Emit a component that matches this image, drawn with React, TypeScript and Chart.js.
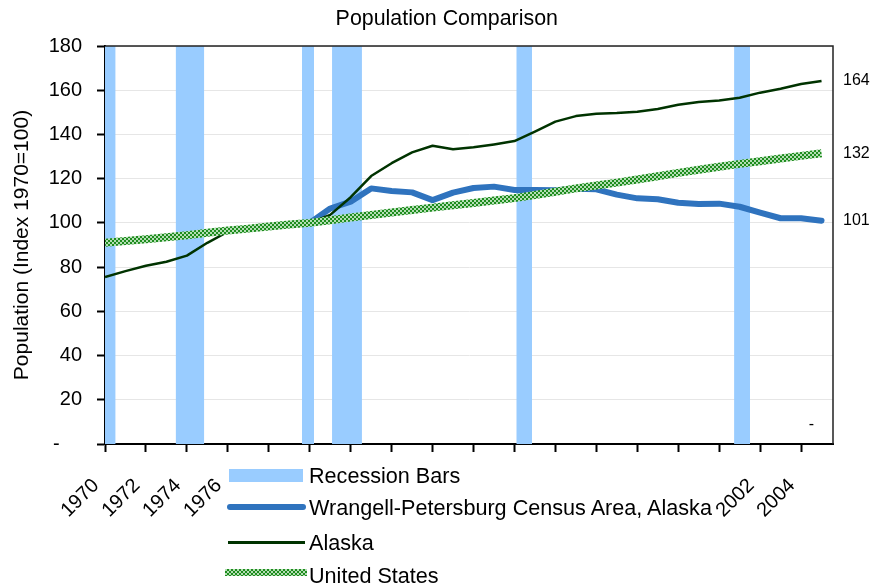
import React, { useEffect, useRef } from 'react';
import { Chart, registerables } from 'chart.js';

Chart.register(...registerables);

// ---------- data ----------
const YEARS = [
  1970, 1971, 1972, 1973, 1974, 1975, 1976, 1977, 1978, 1979,
  1980, 1981, 1982, 1983, 1984, 1985, 1986, 1987, 1988, 1989,
  1990, 1991, 1992, 1993, 1994, 1995, 1996, 1997, 1998, 1999,
  2000, 2001, 2002, 2003, 2004, 2005,
];

const WRANGELL: (number | null)[] = [
  null, null, null, null, null, null, null, null, null, null,
  100.0, 106.5, 109.6, 115.6, 114.4, 113.8, 110.3, 113.7, 115.8, 116.4,
  114.9, 114.9, 114.8, 115.4, 115.2, 112.8, 111.1, 110.7, 109.1, 108.5,
  108.7, 107.3, 104.6, 102.1, 102.1, 101.0,
];

const ALASKA = [
  75.5, 78.2, 80.6, 82.4, 85.2, 91.0, 96.0, 97.3, 98.5, 99.3,
  100.0, 103.6, 111.6, 121.2, 127.0, 131.9, 134.9, 133.3, 134.2, 135.5,
  137.0, 141.3, 145.8, 148.3, 149.4, 149.7, 150.3, 151.5, 153.4, 154.7,
  155.4, 156.6, 158.9, 160.7, 162.8, 164.2,
];

const UNITED_STATES = [
  91.0, 91.8, 92.6, 93.5, 94.4, 95.5, 96.6, 97.4, 98.4, 99.3,
  100.0, 101.2, 102.4, 103.6, 104.7, 105.8, 106.9, 108.0, 109.0, 110.1,
  111.2, 112.6, 114.1, 115.6, 116.9, 118.2, 119.6, 121.1, 122.6, 124.0,
  125.4, 126.7, 127.9, 129.1, 130.3, 131.5,
];

const RECESSION_START = [1970.0, 1973.45, 1979.62, 1981.09, 1990.09, 2000.73];
const RECESSION_END = [1970.52, 1974.85, 1980.21, 1982.55, 1990.86, 2001.51];

const X_TICK_YEARS = [
  1970, 1972, 1974, 1976, 1978, 1980, 1982, 1984, 1986, 1988,
  1990, 1992, 1994, 1996, 1998, 2000, 2002, 2004,
];
const X_LABEL_YEARS = [1970, 1972, 1974, 1976, 2002, 2004];
const Y_TICKS = [0, 20, 40, 60, 80, 100, 120, 140, 160, 180];
const X_MIN = 1970;
const X_MAX = 2005.56;
const Y_MIN = 0;
const Y_MAX = 180;
const ZERO_LABEL_YEAR = 2004.5;

const SERIES_NAMES = [
  'Recession Bars',
  'Wrangell-Petersburg Census Area, Alaska',
  'Alaska',
  'United States',
];
const TITLE = 'Population Comparison';
const Y_TITLE = 'Population (Index 1970=100)';

// ---------- styles ----------
const FONT = '"Liberation Sans", Arial, Helvetica, sans-serif';
const RECESSION_COLOR = '#99CCFF';
const WRANGELL_COLOR = '#2F73BE';
const ALASKA_COLOR = '#003300';
const US_DARK = '#1e8c1e';
const US_LIGHT = '#b4deb4';

const frameAndLabels = {
  id: 'frameAndLabels',
  afterDatasetsDraw(chart: any) {
    const { ctx, chartArea: a, scales } = chart;
    ctx.save();
    ctx.strokeStyle = '#222';
    ctx.lineWidth = 1.5;
    ctx.beginPath();
    ctx.moveTo(a.left, a.top);
    ctx.lineTo(a.right, a.top);
    ctx.lineTo(a.right, a.bottom);
    ctx.stroke();

    ctx.font = `16px ${FONT}`;
    ctx.fillStyle = '#000';
    ctx.textBaseline = 'middle';
    ctx.textAlign = 'left';
    [1, 2, 3].forEach((i) => {
      const ds = chart.data.datasets[i];
      const meta = chart.getDatasetMeta(i);
      let idx = ds.data.length - 1;
      while (idx >= 0 && ds.data[idx].y == null) idx--;
      if (idx < 0) return;
      const el = meta.data[idx];
      ctx.fillText(String(Math.round(ds.data[idx].y)), a.right + 10, el.y);
    });
    ctx.textAlign = 'center';
    ctx.fillText('-', scales.x.getPixelForValue(ZERO_LABEL_YEAR), scales.y.getPixelForValue(0) - 19);

    ctx.font = `21.4px ${FONT}`;
    ctx.fillText(TITLE, 446.8, 19);
    ctx.restore();
  },
};

export default function App() {
  const ref = useRef<HTMLCanvasElement>(null);

  useEffect(() => {
    const canvas = ref.current!;
    const pc = document.createElement('canvas');
    pc.width = 4;
    pc.height = 4;
    const pctx = pc.getContext('2d')!;
    pctx.fillStyle = US_LIGHT;
    pctx.fillRect(0, 0, 4, 4);
    pctx.fillStyle = US_DARK;
    pctx.fillRect(0, 0, 2, 2);
    pctx.fillRect(2, 2, 2, 2);
    const pattern = canvas.getContext('2d')!.createPattern(pc, 'repeat');

    const lineData = (vals: (number | null)[]) => YEARS.map((yr, i) => ({ x: yr, y: vals[i] }));
    const recessionPoints: { x: number; y: number | null }[] = [];
    RECESSION_START.forEach((s, i) => {
      recessionPoints.push({ x: s, y: Y_MAX }, { x: RECESSION_END[i], y: Y_MAX }, { x: RECESSION_END[i], y: null });
    });

    const chart = new Chart(canvas, {
      type: 'line',
      data: {
        datasets: [
          {
            label: SERIES_NAMES[0],
            data: recessionPoints as any,
            backgroundColor: RECESSION_COLOR,
            borderColor: 'rgba(0,0,0,0)',
            borderWidth: 0,
            fill: 'origin',
            pointRadius: 0,
            spanGaps: false,
            order: 4,
          },
          {
            label: SERIES_NAMES[1],
            data: lineData(WRANGELL) as any,
            borderColor: WRANGELL_COLOR,
            borderWidth: 6,
            borderCapStyle: 'round',
            borderJoinStyle: 'round',
            pointRadius: 0,
            fill: false,
            spanGaps: false,
            order: 3,
          },
          {
            label: SERIES_NAMES[2],
            data: lineData(ALASKA) as any,
            borderColor: ALASKA_COLOR,
            borderWidth: 2.5,
            borderJoinStyle: 'round',
            pointRadius: 0,
            fill: false,
            order: 2,
          },
          {
            label: SERIES_NAMES[3],
            data: lineData(UNITED_STATES) as any,
            borderColor: pattern as any,
            borderWidth: 8,
            pointRadius: 0,
            fill: false,
            order: 1,
          },
        ],
      },
      options: {
        responsive: false,
        animation: false,
        events: [],
        layout: { padding: { left: 0, right: 41, top: 46, bottom: 0 } },
        plugins: {
          legend: { display: false },
          tooltip: { enabled: false },
          title: { display: false },
        },
        scales: {
          x: {
            type: 'linear',
            min: X_MIN,
            max: X_MAX,
            afterBuildTicks: (s: any) => {
              s.ticks = X_TICK_YEARS.map((v) => ({ value: v }));
            },
            afterFit: (s: any) => {
              s.height = 141;
            },
            grid: {
              display: true,
              drawOnChartArea: false,
              drawTicks: true,
              tickLength: 8,
              tickColor: '#000',
              tickWidth: 2,
            },
            border: { display: true, color: '#000', width: 2 },
            ticks: {
              autoSkip: false,
              maxRotation: 45,
              minRotation: 45,
              padding: 22,
              labelOffset: -9,
              color: '#000',
              font: { family: FONT, size: 20 },
              callback: (v: any) => (X_LABEL_YEARS.includes(Number(v)) ? String(v) : ''),
            },
          },
          y: {
            min: Y_MIN,
            max: Y_MAX,
            afterBuildTicks: (s: any) => {
              s.ticks = Y_TICKS.map((v) => ({ value: v }));
            },
            afterFit: (s: any) => {
              s.width = 105;
            },
            grid: {
              color: '#e6e6e6',
              lineWidth: 1,
              tickColor: '#000',
              tickWidth: 2,
              tickLength: 8,
            },
            border: { display: true, color: '#000', width: 2 },
            ticks: {
              padding: 15,
              color: '#000',
              font: { family: FONT, size: 20 },
              callback: (v: any) => (Number(v) === 0 ? '-    ' : String(v)),
            },
            title: {
              display: true,
              text: Y_TITLE,
              color: '#000',
              font: { family: FONT, size: 21 },
              padding: { top: 10, bottom: 0 },
            },
          },
        },
      } as any,
      plugins: [frameAndLabels],
    });
    return () => chart.destroy();
  }, []);

  const textCenters = [475.5, 508, 542.5, 575.5];
  const swatches: React.CSSProperties[] = [
    { left: 229, top: 469, width: 74, height: 13, background: RECESSION_COLOR },
    { left: 227, top: 504, width: 79, height: 5.5, background: WRANGELL_COLOR, borderRadius: 3 },
    { left: 228, top: 541, width: 77, height: 2.5, background: ALASKA_COLOR },
    {
      left: 225, top: 569, width: 82, height: 7,
      backgroundImage: `repeating-conic-gradient(${US_DARK} 0 25%, ${US_LIGHT} 0 50%)`,
      backgroundSize: '4px 4px',
    },
  ];

  return (
    <div style={{ position: 'fixed', left: 0, top: 0, width: 874, height: 585, background: '#fff', overflow: 'hidden' }}>
      <canvas ref={ref} width={874} height={585} style={{ display: 'block' }} />
      {SERIES_NAMES.map((name, i) => (
        <React.Fragment key={name}>
          <div style={{ position: 'absolute', ...swatches[i] }} />
          <div
            style={{
              position: 'absolute',
              left: 309,
              top: textCenters[i] - 12,
              fontFamily: FONT,
              fontSize: 21.6,
              lineHeight: '24px',
              color: '#000',
              whiteSpace: 'nowrap',
            }}
          >
            {name}
          </div>
        </React.Fragment>
      ))}
    </div>
  );
}
